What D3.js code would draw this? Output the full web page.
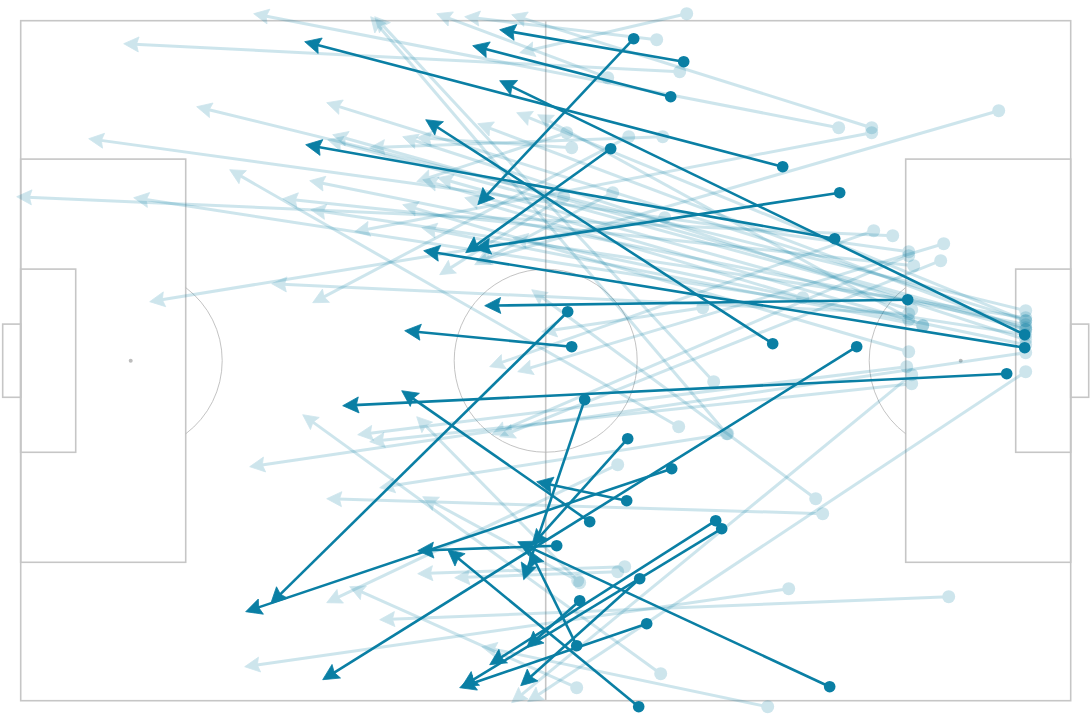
<!DOCTYPE html>
<html><head><meta charset="utf-8">
<script src="https://cdn.jsdelivr.net/npm/d3@7"></script>
<style>body{margin:0;background:#fff}svg{display:block}</style>
</head><body>
<svg id="chart" width="1090" height="720"></svg>
<script>
// Highlighted passes (metres on a 105 x 68 pitch)
const keyStartX = [61.3,66.3,65.0,59.0,76.2,81.9,81.4,100.4,100.4,88.7,75.2,54.7,55.1,98.6,83.6,56.4,60.7,65.1,60.6,56.9,53.6,69.5,70.1,61.9,55.9,62.6,55.6,61.8,80.9];
const keyStartY = [1.8,4.1,7.6,12.8,14.6,17.2,21.8,31.4,32.7,27.9,32.3,29.1,32.6,35.3,32.6,37.9,41.8,44.8,48.0,50.1,52.5,50.0,50.8,55.8,58.0,60.3,62.5,68.6,66.6];
const keyEndX   = [45.7,47.9,45.2,44.5,28.4,45.4,28.5,47.9,40.3,46.4,40.5,25.0,38.4,32.2,30.2,50.3,51.1,22.5,51.6,38.1,39.7,46.9,44.1,50.0,50.6,43.9,50.9,42.7,49.7];
const keyEndY   = [18.4,0.9,2.5,23.2,2.1,22.8,12.4,6.0,23.0,28.5,9.9,58.3,31.0,38.5,65.9,55.9,52.5,59.1,46.1,37.0,53.0,64.4,66.6,66.5,62.7,66.7,53.0,52.9,52.1];

// Other passes (faded)
const otherStartX = [66.6,63.6,65.9,58.7,81.8,85.1,69.3,70.6,97.8,100.5,100.5,100.5,100.5,100.5,100.5,100.5,88.8,89.3,100.5,87.2,85.3,85.1,65.8,64.4,88.8,60.8,64.0,100.5,88.6,89.1,80.2,55.6,59.7,76.8,70.7,55.7,60.4,59.7,92.8,74.7,100.5,89.1,79.5,92.3,92.0,88.8,54.3,59.2,100.5,90.2,100.5,64.2,78.2,88.8,90.2,100.5,68.2,54.6,88.8,89.1,55.1,55.9];
const otherStartY = [-0.7,1.9,5.1,5.7,10.7,10.7,36.1,41.3,9.0,29.0,30.0,30.9,30.7,30.4,31.4,31.9,23.1,24.5,29.7,21.5,21.0,11.2,40.6,19.7,29.3,11.6,65.3,33.2,34.6,36.3,49.3,66.7,44.4,56.8,41.3,56.0,54.6,55.1,57.6,68.6,35.1,35.4,47.8,22.3,24.0,23.5,17.6,17.2,30.0,30.5,30.9,11.6,27.7,33.1,30.5,32.4,28.7,11.2,29.9,28.9,12.7,56.2];
const otherEndX   = [49.9,44.4,10.3,41.6,23.3,49.1,35.4,35.0,45.6,17.6,30.6,30.7,31.2,28.9,11.3,38.2,6.8,26.2,29.0,-0.4,46.9,33.4,20.9,12.9,25.1,29.2,28.2,22.9,33.7,34.9,30.6,32.9,30.6,22.4,35.9,40.2,39.7,43.4,35.9,46.1,50.7,49.1,51.1,49.7,47.9,47.1,41.9,45.4,49.6,51.7,45.7,34.9,44.4,38.2,40.1,49.2,52.1,39.6,40.2,41.7,39.6,39.6];
const otherEndY   = [3.2,-0.4,2.3,-0.7,-0.7,-0.6,-0.4,-0.4,24.1,8.6,8.2,11.9,11.4,16.0,17.7,11.6,11.8,17.8,18.9,17.6,34.6,21.1,14.9,28.1,26.3,28.2,39.4,44.6,41.4,42.1,47.8,56.6,58.2,64.6,46.7,47.6,55.3,55.7,59.9,62.6,68.1,68.2,26.9,35.1,41.6,41.4,25.4,24.4,9.2,9.4,10.3,12.7,17.7,18.4,20.7,21.7,31.1,16.1,15.9,15.7,11.7,39.6];

const PITCH_LEN = 105, PITCH_WID = 68;
const passColor = "#0a7fa4";
const lineColor = "#c6c6c6";

const svg = d3.select("#chart");
const x = d3.scaleLinear().domain([0, PITCH_LEN]).range([20.7, 1070.7]);
const y = d3.scaleLinear().domain([0, PITCH_WID]).range([20.7, 700.7]);
const k = x(1) - x(0);

// ---------- pitch ----------
const pitch = svg.append("g").attr("fill", "none").attr("stroke", lineColor).attr("stroke-width", 1.6);
pitch.append("rect").attr("x", x(0)).attr("y", y(0)).attr("width", x(PITCH_LEN) - x(0)).attr("height", y(PITCH_WID) - y(0));
pitch.append("line").attr("x1", x(52.5)).attr("x2", x(52.5)).attr("y1", y(0)).attr("y2", y(PITCH_WID));
const boxes = [
  [0, 16.5, 40.32], [PITCH_LEN - 16.5, 16.5, 40.32],
  [0, 5.5, 18.32], [PITCH_LEN - 5.5, 5.5, 18.32],
  [-1.8, 1.8, 7.32], [PITCH_LEN, 1.8, 7.32]
];
boxes.forEach(([bx, bw, bh]) => {
  pitch.append("rect").attr("x", x(bx)).attr("y", y((PITCH_WID - bh) / 2))
    .attr("width", x(bx + bw) - x(bx)).attr("height", y((PITCH_WID + bh) / 2) - y((PITCH_WID - bh) / 2));
});
const thin = svg.append("g").attr("fill", "none").attr("stroke", "#b4b4b4").attr("stroke-width", 0.8);
thin.append("circle").attr("cx", x(52.5)).attr("cy", y(34)).attr("r", 9.15 * k);
const a = Math.acos(5.5 / 9.15);
const p1 = d3.path(); p1.arc(x(11), y(34), 9.15 * k, -a, a);
thin.append("path").attr("d", p1.toString());
const p2 = d3.path(); p2.arc(x(PITCH_LEN - 11), y(34), 9.15 * k, Math.PI - a, Math.PI + a);
thin.append("path").attr("d", p2.toString());
[11, PITCH_LEN - 11].forEach(s => svg.append("circle").attr("cx", x(s)).attr("cy", y(34)).attr("r", 2).attr("fill", "#bdbdbd"));

// ---------- passes ----------
function drawPass(g, sx, sy, ex, ey, opts) {
  const x1 = x(sx), y1 = y(sy), x2 = x(ex), y2 = y(ey);
  const dx = x2 - x1, dy = y2 - y1, len = Math.hypot(dx, dy);
  const ux = dx / len, uy = dy / len;
  const L = opts.head, W = opts.head * 0.5;
  const bx = x2 - ux * L, by = y2 - uy * L;
  const grp = g.append("g").attr("opacity", opts.opacity);
  grp.append("line").attr("x1", x1).attr("y1", y1)
    .attr("x2", x2 - ux * L * 0.7).attr("y2", y2 - uy * L * 0.7)
    .attr("stroke", passColor).attr("stroke-width", opts.width);
  grp.append("path").attr("d", `M${x2},${y2}L${bx - uy * W},${by + ux * W}L${bx + ux * L * 0.15},${by + uy * L * 0.15}L${bx + uy * W},${by - ux * W}Z`)
    .attr("fill", passColor).attr("stroke", passColor).attr("stroke-width", 0.8).attr("stroke-linejoin", "round");
  grp.append("circle").attr("cx", x1).attr("cy", y1).attr("r", opts.r).attr("fill", passColor);
}

const faded = svg.append("g");
otherStartX.forEach((_, i) => drawPass(faded, otherStartX[i], otherStartY[i], otherEndX[i], otherEndY[i],
  {opacity: 0.2, width: 3, r: 6.5, head: 15}));
const key = svg.append("g");
keyStartX.forEach((_, i) => drawPass(key, keyStartX[i], keyStartY[i], keyEndX[i], keyEndY[i],
  {opacity: 1, width: 2.6, r: 5.8, head: 16}));
</script>
</body></html>
